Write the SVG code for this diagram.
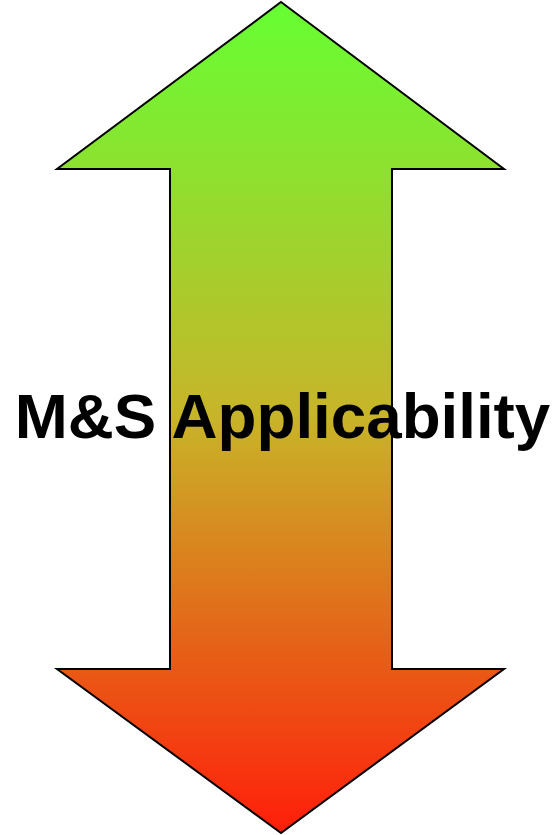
<svg xmlns="http://www.w3.org/2000/svg" width="555" height="835" viewBox="0 0 555 835">
<defs>
<linearGradient id="g" x1="0" y1="0" x2="0" y2="1">
<stop offset="0" stop-color="#66FF33"/>
<stop offset="0.5" stop-color="#C8B428"/>
<stop offset="1" stop-color="#FF1E0A"/>
</linearGradient>
<style>
.arrow{fill:url(#g);stroke:#000;stroke-width:2;stroke-linejoin:miter}
.lbl{font-family:"Liberation Sans",Arial,sans-serif;font-weight:bold;font-size:63.7px;fill:#000}
</style>
</defs>
<rect width="555" height="835" fill="#fff"/>
<g id="arrow">
<path class="arrow" d="M281,2 L504,169 L392,169 L392,669 L504,669 L281,833 L57,669 L170,669 L170,169 L57,169 Z"/>
</g>
<g id="label">
<text class="lbl" x="282.5" y="438" text-anchor="middle">M&amp;S Applicability</text>
</g>
<g id="connectors"/>
</svg>
